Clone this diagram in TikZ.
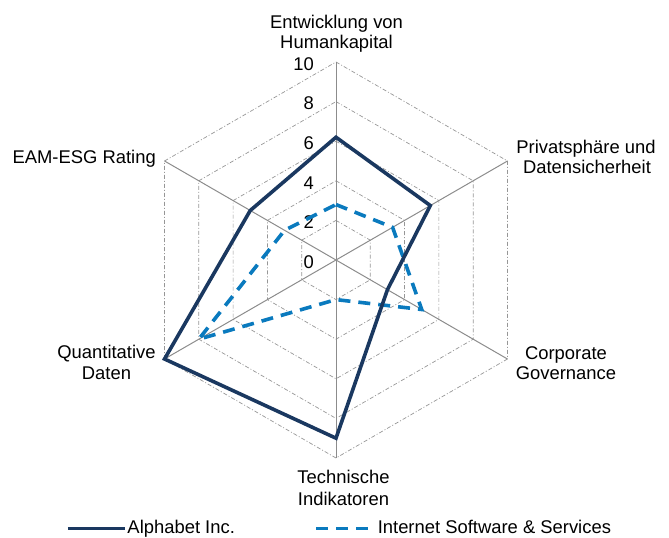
\documentclass[tikz,border=0pt]{standalone}
\usepackage{fontspec}
\setmainfont{Liberation Sans}
\definecolor{navy}{RGB}{26,56,96}
\definecolor{iblue}{RGB}{10,122,190}
\definecolor{gridgrey}{RGB}{150,150,150}
\definecolor{axisgrey}{RGB}{140,140,140}
\tikzset{
  gridline/.style={gridgrey, line width=0.7bp, dash pattern=on 4bp off 2bp on 1bp off 2bp},
  axisline/.style={axisgrey, line width=1bp},
  alpha/.style={navy, line width=3.6bp, line join=miter},
  inet/.style={iblue, line width=3.6bp, dash pattern=on 12bp off 8bp},
  lab/.style={font=\fontsize{18.4bp}{22bp}\selectfont, anchor=base, inner sep=0pt},
  tick/.style={font=\fontsize{18.4bp}{22bp}\selectfont, anchor=east, inner sep=0pt},
  leg/.style={font=\fontsize{18.4bp}{22bp}\selectfont, anchor=base west, inner sep=0pt},
}
\begin{document}
\begin{tikzpicture}[x=1bp,y=1bp]
\useasboundingbox (-336,-278) rectangle (333,260);
\def\U{19.8}
% grid hexagons
\foreach \v in {2,4,6,8,10}{
  \draw[gridline] (90:\v*\U bp) -- (30:\v*\U bp) -- (-30:\v*\U bp) -- (-90:\v*\U bp) -- (-150:\v*\U bp) -- (150:\v*\U bp) -- cycle;
}
% axes
\coordinate (c) at (0,0);
\foreach \a/\n in {90/ax1,30/ax2,-30/ax3,-90/ax4,-150/ax5,150/ax6}{
  \coordinate (\n) at (\a:10*\U bp);
  \draw[axisline] (c) -- (\n);
}
% tick labels
\foreach \v in {0,2,4,6,8,10}{
  \node[tick] (t\v) at (-22bp,\v*\U bp-2bp) {\v};
}
% series: Internet Software & Services
\draw[inet] (90:2.8*\U bp) -- (30:3.3*\U bp) -- (-30:5.0*\U bp) -- (-90:2.0*\U bp) -- (-150:8.0*\U bp) -- (150:3.0*\U bp) -- cycle;
% series: Alphabet Inc.
\draw[alpha] (90:6.2*\U bp) -- (30:5.5*\U bp) -- (-30:3.0*\U bp) -- (-90:9.0*\U bp) -- (-150:10*\U bp) -- (150:5.0*\U bp) -- cycle;
% category labels
\node[lab] (l1a) at (0.5,231.7) {Entwicklung von};
\node[lab] (l1b) at (0.5,211.7) {Humankapital};
\node[lab] (l2a) at (250,106.7) {Privatsphäre und};
\node[lab] (l2b) at (251,86.7) {Datensicherheit};
\node[lab] (l3a) at (230,-100) {Corporate};
\node[lab] (l3b) at (230,-120) {Governance};
\node[lab] (l4a) at (7.5,-223.3) {Technische};
\node[lab] (l4b) at (7.5,-245) {Indikatoren};
\node[lab] (l5a) at (-229.5,-98.3) {Quantitative};
\node[lab] (l5b) at (-229.5,-120) {Daten};
\node[lab] (l6) at (-251.8,96.7) {EAM-ESG Rating};
% legend
\coordinate (la1) at (-268,-268.5);
\coordinate (la2) at (-211,-268.5);
\draw[alpha] (la1) -- (la2);
\node[leg] (lega) at (-208.7,-273.8) {Alphabet Inc.};
\coordinate (lb1) at (-20,-268.5);
\coordinate (lb2) at (36,-268.5);
\draw[inet] (lb1) -- (lb2);
\node[leg] (legb) at (41.6,-273.8) {Internet Software \& Services};
\end{tikzpicture}
\end{document}
